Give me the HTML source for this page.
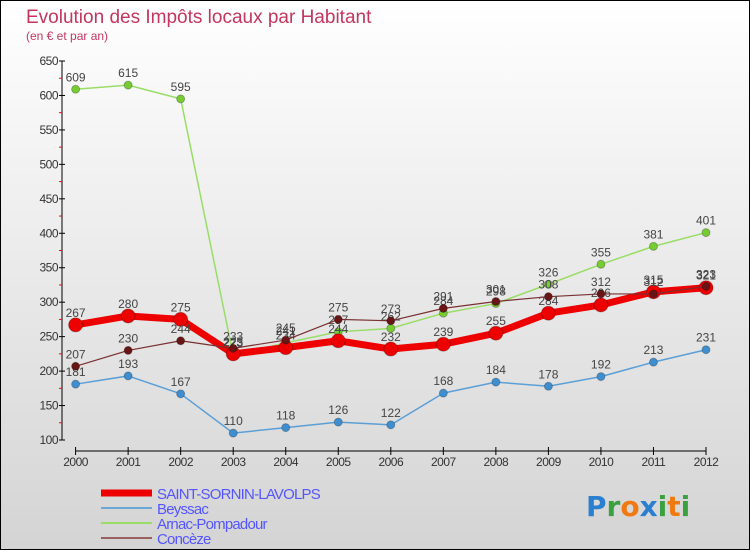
<!DOCTYPE html>
<html><head><meta charset="utf-8"><style>
body{margin:0}
#c{width:748px;height:548px;border:1px solid #000;background:linear-gradient(#fff,#d4d4d4);position:relative;overflow:hidden;font-family:"Liberation Sans",sans-serif}
</style></head><body>
<div id="c">
<svg id="s" width="748" height="548"></svg>
</div>
<script>
const years=[2000,2001,2002,2003,2004,2005,2006,2007,2008,2009,2010,2011,2012];
const saint=[267,280,275,225,234,244,232,239,255,284,296,315,321];
const beyssac=[181,193,167,110,118,126,122,168,184,178,192,213,231];
const arnac=[609,615,595,223,241,257,262,284,298,326,355,381,401];
const concez=[207,230,244,233,245,275,273,291,301,308,312,312,323];
const yTicks=[100,150,200,250,300,350,400,450,500,550,600,650];
const NS="http://www.w3.org/2000/svg";
const s=document.getElementById('s');
function X(i){return 74.6+i*(705-74.6)/12;}
function Y(v){return 439-(v-100)*(439-60)/550;}
function el(t,a,p){const e=document.createElementNS(NS,t);for(const k in a)e.setAttribute(k,a[k]);(p||s).appendChild(e);return e;}
function tx(x,y,str,a){const e=el('text',Object.assign({x:x,y:y},a));e.textContent=str;return e;}
let t=tx(25,22,'Evolution des Impôts locaux par Habitant',{fill:'#c2365f','font-size':19});

t=tx(25,39,'(en € et par an)',{fill:'#c2365f','font-size':12});

// axes
let ax=el('line',{x1:61,y1:Y(650),x2:61,y2:Y(100),stroke:'#000'});

for(let v=125;v<650;v+=50){el('line',{x1:58,x2:61,y1:Y(v),y2:Y(v),stroke:'#f00'});}
yTicks.forEach(v=>{el('line',{x1:58,x2:64,y1:Y(v),y2:Y(v),stroke:'#000'});
 const l=tx(57,Y(v)+4,v,{fill:'#333','font-size':12,'text-anchor':'end','letter-spacing':'-0.5'});
 });
ax=el('line',{x1:X(0),y1:450,x2:X(12),y2:450,stroke:'#000'});

years.forEach((y,i)=>{el('line',{x1:X(i),x2:X(i),y1:446,y2:454,stroke:'#000'});
 const l=tx(X(i),465,y,{fill:'#333','font-size':12,'text-anchor':'middle','letter-spacing':'-0.5'});
 });
function series(d,col,w,r,name,dot){
 const g=el('g',{});
 el('polyline',{points:d.map((v,i)=>X(i)+','+Y(v)).join(' '),fill:'none',stroke:col,'stroke-width':w,'stroke-linejoin':'round'},g);
 d.forEach((v,i)=>{const c=el('circle',{cx:X(i),cy:Y(v),r:r,fill:dot||col,stroke:'rgba(0,0,0,0.25)'},g);
  
  tx(X(i),Y(v)-8,v,{fill:'#444','font-size':12,'text-anchor':'middle'},g);});
}
series(beyssac,'#5b9fd6',1.5,4,'series-beyssac','#3f8fd0');
series(arnac,'#99dd66',1.5,4,'series-arnac','#77cc33');
series(saint,'#ee0000',7,7,'series-saint-sornin','#ee0000');
series(concez,'#7a3030',1.2,4,'series-conceze','#6a1515');
// legend
const leg=[['SAINT-SORNIN-LAVOLPS','#ee0000',7],['Beyssac','#6aa8d8',2],['Arnac-Pompadour','#99dd66',2],['Concèze','#9a6060',2]];
leg.forEach((e,i)=>{const y=492+i*15;const g=el('g',{});
 
 el('line',{x1:100,x2:151,y1:y,y2:y,stroke:e[1],'stroke-width':e[2]},g);
 tx(156,y+6,e[0],{fill:'#5555ff','font-size':15,'letter-spacing':'-0.8'},g);});
// logo
const lg=el('text',{x:585,y:515,'font-size':28,'font-family':'"DejaVu Sans",sans-serif','font-weight':'bold'});

[['P','#2a7fd0'],['r','#3aa040'],['o','#f07a10'],['x','#2a7fd0'],['i','#3aa040'],['t','#f07a10'],['i','#3aa040']].forEach(c=>{const sp=el('tspan',{fill:c[1]},lg);sp.textContent=c[0];});
</script>
</body></html>
